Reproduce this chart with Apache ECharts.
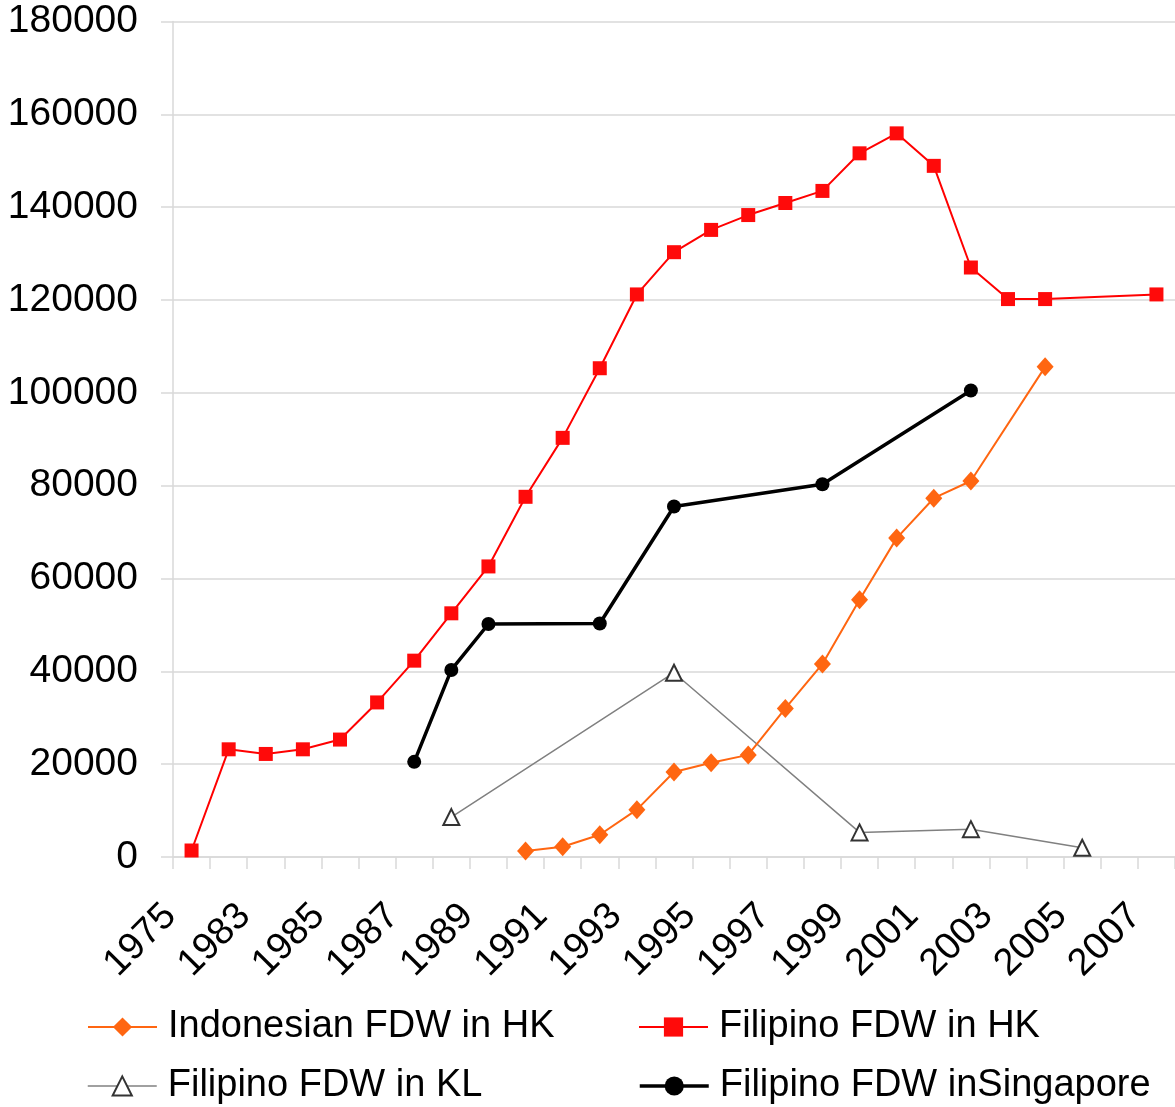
<!DOCTYPE html>
<html>
<head>
<meta charset="utf-8">
<script src="https://cdn.jsdelivr.net/npm/echarts@6/dist/echarts.min.js"></script>
<style>
html,body{margin:0;padding:0;background:#fff;}
#c{width:1175px;height:1107px;}
</style>
</head>
<body>
<div id="c"></div>
<script>
const years = ['1975','1982','1983','1984','1985','1986','1987','1988','1989','1990','1991','1992','1993','1994','1995','1996','1997','1998','1999','2000','2001','2002','2003','2004','2005','2006','2007'];
const indonesianHK = [null,null,null,null,null,null,null,null,null,1300,2200,4800,10200,18300,20300,22000,32000,41600,55400,68700,77300,81000,null,105600,null,null,null];
const filipinoHK = [1400,23200,22200,23200,25300,33300,42300,52500,62600,77600,90300,105300,121200,130300,135100,138300,140900,143500,151600,155900,148900,127000,120200,120200,null,null,121200];
const filipinoKL = [null,null,null,null,null,null,null,8600,null,null,null,null,null,39700,null,null,null,null,5300,null,null,6000,null,null,2000,null,null];
const filipinoSG = [null,null,null,null,null,null,20500,40300,50200,null,null,50300,null,75500,null,null,null,80300,null,null,null,100500,null,null,null,null,null];
const yTicks = {min:0, max:180000, interval:20000};
const seriesNames = ['Indonesian FDW in HK','Filipino FDW in HK','Filipino FDW in KL','Filipino FDW inSingapore'];

const FONT = '"Liberation Sans", Arial, sans-serif';
const GRID = '#d9d9d9';

function legendAt(name, left, top, lw){
  return {orient:'horizontal', left:left, top:top, itemWidth:69, itemHeight:24, padding:0,
    lineStyle:{width:lw},
    textStyle:{fontSize:38, color:'#000', fontFamily:FONT, lineHeight:40, padding:[0,0,0,6]},
    data:[name]};
}

const chart = echarts.init(document.getElementById('c'), null, {renderer:'canvas'});
chart.setOption({
  animation:false,
  backgroundColor:'#fff',
  grid:{left:173, right:0, top:21.5, bottom:250, containLabel:false},
  xAxis:{
    type:'category', data:years, boundaryGap:true,
    axisLine:{show:true, lineStyle:{color:GRID, width:1.5}},
    axisTick:{show:true, interval:0, length:12, lineStyle:{color:GRID, width:1.5}},
    axisLabel:{interval:1, rotate:45, fontSize:38, color:'#000', fontFamily:FONT, margin:32, padding:[0,30,0,0]},
    splitLine:{show:false}
  },
  yAxis:{
    type:'value', min:yTicks.min, max:yTicks.max, interval:yTicks.interval,
    axisLine:{show:true, lineStyle:{color:GRID, width:1.5}},
    axisTick:{show:true, length:12, lineStyle:{color:GRID, width:1.5}},
    axisLabel:{fontSize:39, color:'#000', fontFamily:FONT, margin:35, formatter:function(v){return String(v);}},
    splitLine:{show:true, lineStyle:{color:GRID, width:1.5}}
  },
  legend:[
    legendAt(seriesNames[0], 87, 1007, 2),
    legendAt(seriesNames[1], 638, 1007, 2),
    legendAt(seriesNames[2], 87, 1066, 1.5),
    legendAt(seriesNames[3], 638, 1066, 3.5)
  ],
  series:[
    {name:seriesNames[0], type:'line', data:indonesianHK, connectNulls:true,
     symbol:'diamond', symbolSize:[17,19], z:3,
     lineStyle:{color:'#FF6611', width:2}, itemStyle:{color:'#FF6611'}},
    {name:seriesNames[1], type:'line', data:filipinoHK, connectNulls:true,
     symbol:'rect', symbolSize:14, z:4,
     lineStyle:{color:'#FF0000', width:2}, itemStyle:{color:'#FF0A0A'}},
    {name:seriesNames[2], type:'line', data:filipinoKL, connectNulls:true,
     symbol:'triangle', symbolSize:16, z:2,
     lineStyle:{color:'#808080', width:1.5}, itemStyle:{color:'#fff', borderColor:'#333', borderWidth:2}},
    {name:seriesNames[3], type:'line', data:filipinoSG, connectNulls:true,
     symbol:'circle', symbolSize:14, z:5,
     lineStyle:{color:'#000', width:3.5}, itemStyle:{color:'#000'}}
  ]
});
</script>
</body>
</html>
